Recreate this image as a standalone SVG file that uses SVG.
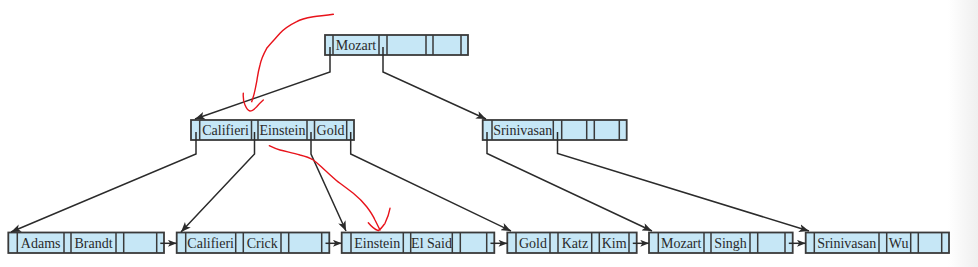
<svg xmlns="http://www.w3.org/2000/svg" width="978" height="267" viewBox="0 0 978 267">
<defs>
<linearGradient id="edge" x1="0" y1="0" x2="1" y2="0">
<stop offset="0" stop-color="#ffffff"/>
<stop offset="1" stop-color="#efefef"/>
</linearGradient>
<marker id="ah" viewBox="0 0 10 8" refX="10" refY="4" markerWidth="10" markerHeight="8" markerUnits="userSpaceOnUse" orient="auto">
<path d="M0,0 L10,4 L0,8 L2.5,4 Z" fill="#2b2b2b"/>
</marker>
<marker id="ahs" viewBox="0 0 10 8" refX="10" refY="4" markerWidth="9" markerHeight="7" markerUnits="userSpaceOnUse" orient="auto">
<path d="M0,0 L10,4 L0,8 L2.5,4 Z" fill="#2b2b2b"/>
</marker>
</defs>
<style>
.box{fill:#c6e7f6;stroke:#3a3a3a;stroke-width:1.8}
.div{stroke:#3a3a3a;stroke-width:1.5;fill:none}
.t{font-family:"Liberation Serif","DejaVu Serif",serif;font-size:14px;fill:#2a2a2a;text-anchor:middle}
.c{fill:none;stroke:#2b2b2b;stroke-width:1.5}
.red{fill:none;stroke:#e8131b;stroke-width:1.4;stroke-linecap:round;stroke-linejoin:round}
</style>
<rect x="0" y="0" width="978" height="267" fill="#ffffff"/>
<rect x="948" y="0" width="30" height="267" fill="url(#edge)"/>

<g id="root">
<rect class="box" x="325" y="35" width="143" height="20"/>
<path class="div" d="M333,35V55M379,35V55M387,35V55M426,35V55M433,35V55M461,35V55"/>
<text class="t" x="356" y="50">Mozart</text>
</g>

<g id="inner-left">
<rect class="box" x="191" y="120" width="163" height="20"/>
<path class="div" d="M199.7,120V140M251.5,120V140M258,120V140M307,120V140M314.5,120V140M346.7,120V140"/>
<text class="t" x="225.6" y="135">Califieri</text>
<text class="t" x="282.5" y="135">Einstein</text>
<text class="t" x="330.6" y="135">Gold</text>
</g>

<g id="inner-right">
<rect class="box" x="482.7" y="120" width="144" height="20"/>
<path class="div" d="M492,120V140M553.3,120V140M561.7,120V140M586.7,120V140M594.3,120V140M619.3,120V140"/>
<text class="t" x="522.7" y="135">Srinivasan</text>
</g>

<g id="leaf1">
<rect class="box" x="8.3" y="232.5" width="155.7" height="20.5"/>
<path class="div" d="M17.3,232.5V253M64,232.5V253M71,232.5V253M116,232.5V253M123.7,232.5V253M156.7,232.5V253"/>
<text class="t" x="40.7" y="248">Adams</text>
<text class="t" x="93.5" y="248">Brandt</text>
</g>

<g id="leaf2">
<rect class="box" x="176.7" y="232.5" width="152.6" height="20.5"/>
<path class="div" d="M185.7,232.5V253M235.7,232.5V253M243.3,232.5V253M281,232.5V253M288.7,232.5V253M321.7,232.5V253"/>
<text class="t" x="210.7" y="248">Califieri</text>
<text class="t" x="262.2" y="248">Crick</text>
</g>

<g id="leaf3">
<rect class="box" x="341.7" y="232.5" width="152.6" height="20.5"/>
<path class="div" d="M351,232.5V253M403.3,232.5V253M410.7,232.5V253M452.3,232.5V253M460.3,232.5V253M486.7,232.5V253"/>
<text class="t" x="377.2" y="248">Einstein</text>
<text class="t" x="431.5" y="248">El Said</text>
</g>

<g id="leaf4">
<rect class="box" x="507.3" y="232.5" width="129.4" height="20.5"/>
<path class="div" d="M516,232.5V253M550,232.5V253M558,232.5V253M591.7,232.5V253M599.3,232.5V253M629,232.5V253"/>
<text class="t" x="533" y="248">Gold</text>
<text class="t" x="574.9" y="248">Katz</text>
<text class="t" x="614.2" y="248">Kim</text>
</g>

<g id="leaf5">
<rect class="box" x="649" y="232.5" width="143.7" height="20.5"/>
<path class="div" d="M658.3,232.5V253M704,232.5V253M711,232.5V253M750,232.5V253M757.7,232.5V253M785,232.5V253"/>
<text class="t" x="681.2" y="248">Mozart</text>
<text class="t" x="730.5" y="248">Singh</text>
</g>

<g id="leaf6">
<rect class="box" x="805.7" y="232.5" width="143.3" height="20.5"/>
<path class="div" d="M814.3,232.5V253M879,232.5V253M886.7,232.5V253M910.7,232.5V253M918.3,232.5V253M941.7,232.5V253"/>
<text class="t" x="846.7" y="248">Srinivasan</text>
<text class="t" x="898.7" y="248">Wu</text>
</g>

<g id="connectors">
<path class="c" marker-end="url(#ah)" d="M330,47V72L195,119"/>
<path class="c" marker-end="url(#ah)" d="M383,47V72L486,119"/>
<path class="c" marker-end="url(#ah)" d="M196,132V154L11,232"/>
<path class="c" marker-end="url(#ah)" d="M254.5,132V154L181,232"/>
<path class="c" marker-end="url(#ah)" d="M311,132V154L346,231"/>
<path class="c" marker-end="url(#ah)" d="M350.7,132V154L511,231"/>
<path class="c" marker-end="url(#ah)" d="M487,132V153.5L652,231"/>
<path class="c" marker-end="url(#ah)" d="M557.5,132V153.5L809,231"/>
<path class="c" marker-end="url(#ahs)" d="M160.3,243.3H176.7"/>
<path class="c" marker-end="url(#ahs)" d="M325.5,243.3H341.7"/>
<path class="c" marker-end="url(#ahs)" d="M490.5,243.3H507.3"/>
<path class="c" marker-end="url(#ahs)" d="M632.8,243.3H649"/>
<path class="c" marker-end="url(#ahs)" d="M788.8,243.3H805.7"/>
</g>

<g id="annotations">
<path class="red" d="M333.3,14.3C325,16 320,15.5 313.3,16.7C305,18 300,19.5 296.7,21.7C290,25 285,28 280,33.3C274,40 270,44 266.7,48.3C263,55 261,60 260,65C258,72 257.5,77 256.7,81.7C255.5,88 254.5,93 253.3,96.7L251.7,101.7"/>
<path class="red" d="M243.3,93.3C243,98 243.5,102 245,105C246.5,108.5 248,110.5 250,111C252.5,111 254.5,109 256.7,106.7C259,104 261,102 263.3,100"/>
<path class="red" d="M269.3,145.7C273,147.5 276,149 280,150C288,152 294,153 300,155C306,156.5 310,158 313.3,160C319,164 322,168 326.7,171.7C331,175.5 335,179.5 340,183.3C345,187 349,190 353.3,193.3C359,198 363,202 366.7,206.7C370,211 373,215.5 375,220C377,224 378.5,227 380,230"/>
<path class="red" d="M368.3,222.7C371,226 374,229 378.3,230.7C381,229 383,226 385,223.3C387,219 389,214 390,208.3"/>
</g>
</svg>
